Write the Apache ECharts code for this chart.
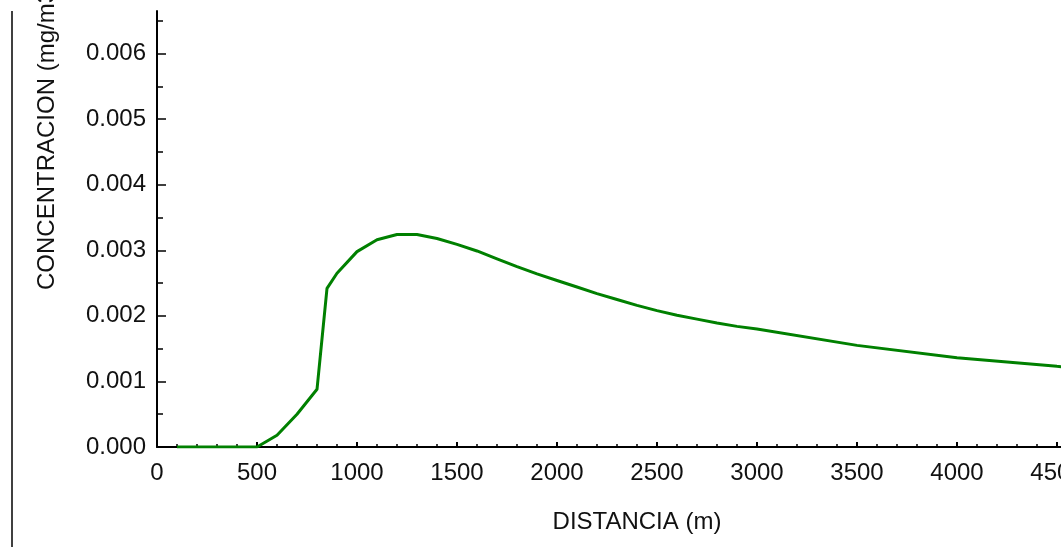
<!DOCTYPE html>
<html>
<head>
<meta charset="utf-8">
<script src="https://cdn.jsdelivr.net/npm/echarts@6/dist/echarts.min.js"></script>
<style>
html,body{margin:0;padding:0;background:#fff;}
#chart{width:1061px;height:547px;}
</style>
</head>
<body>
<div id="chart"></div>
<script>
const distances = [100,200,300,400,500,600,700,800,850,900,1000,1100,1200,1300,1400,1500,1600,1700,1800,1900,2000,2100,2200,2300,2400,2500,2600,2700,2800,2900,3000,3500,4000,4500,5000];
const concentrations = [0,0,0,0,0,0.00018,0.00050,0.00088,0.00242,0.00265,0.00298,0.00316,0.00324,0.00324,0.00318,0.00309,0.00299,0.00287,0.00275,0.00264,0.00254,0.00244,0.00234,0.00225,0.00216,0.00208,0.00201,0.00195,0.00189,0.00184,0.00180,0.00155,0.00136,0.00123,0.00112];
const yMajorTicks = [0,0.001,0.002,0.003,0.004,0.005,0.006];
const yMinorTicks = [0.0005,0.0015,0.0025,0.0035,0.0045,0.0055,0.0065];
const xTitle = 'DISTANCIA (m)';
const yTitle = 'CONCENTRACION (mg/m3)';

const FONT = 'Liberation Sans, Arial, sans-serif';
const chart = echarts.init(document.getElementById('chart'));
const yMax = 0.00665;
chart.setOption({
  animation:false,
  backgroundColor:'#fff',
  grid:{left:157, top:11, width:1000, height:436, containLabel:false, outerBoundsMode:'none'},
  xAxis:{
    type:'value', min:0, max:5000, interval:500,
    axisLine:{show:true, lineStyle:{color:'#000', width:2}},
    axisTick:{show:true, inside:true, length:5, lineStyle:{color:'#000', width:2}},
    minorTick:{show:true, splitNumber:5, length:3, lineStyle:{color:'#000', width:1.5}},
    splitLine:{show:false},
    axisLabel:{color:'#111', fontSize:24, fontFamily:FONT, margin:14, formatter:v=>String(v)}
  },
  yAxis:[{
    type:'value', min:0, max:yMax,
    axisLine:{show:true, lineStyle:{color:'#000', width:2}},
    axisTick:{show:true, inside:true, length:9, customValues:yMajorTicks, lineStyle:{color:'#000', width:1.5}},
    splitLine:{show:false},
    axisLabel:{color:'#111', fontSize:24, fontFamily:FONT, margin:11, customValues:yMajorTicks,
      formatter:v=>v.toFixed(3)}
  },{
    type:'value', min:0, max:yMax, position:'left',
    axisLine:{show:false},
    axisTick:{show:true, inside:true, length:6, customValues:yMinorTicks, lineStyle:{color:'#000', width:1.5}},
    splitLine:{show:false},
    axisLabel:{show:false}
  }],
  graphic:[
    {type:'line', shape:{x1:12, y1:11, x2:12, y2:547}, style:{stroke:'#000', lineWidth:1.5}},
    {type:'text', x:47, y:290, rotation:Math.PI/2,
      style:{text:yTitle, fill:'#111', font:'24px '+FONT, textAlign:'left', textVerticalAlign:'middle'}},
    {type:'text', x:637, y:522,
      style:{text:xTitle, fill:'#111', font:'24px '+FONT, textAlign:'center', textVerticalAlign:'middle'}}
  ],
  series:[{
    type:'line', data:distances.map((d,i)=>[d, concentrations[i]]),
    symbol:'none', lineStyle:{color:'#008000', width:3}, itemStyle:{color:'#008000'}
  }]
});
</script>
</body>
</html>
